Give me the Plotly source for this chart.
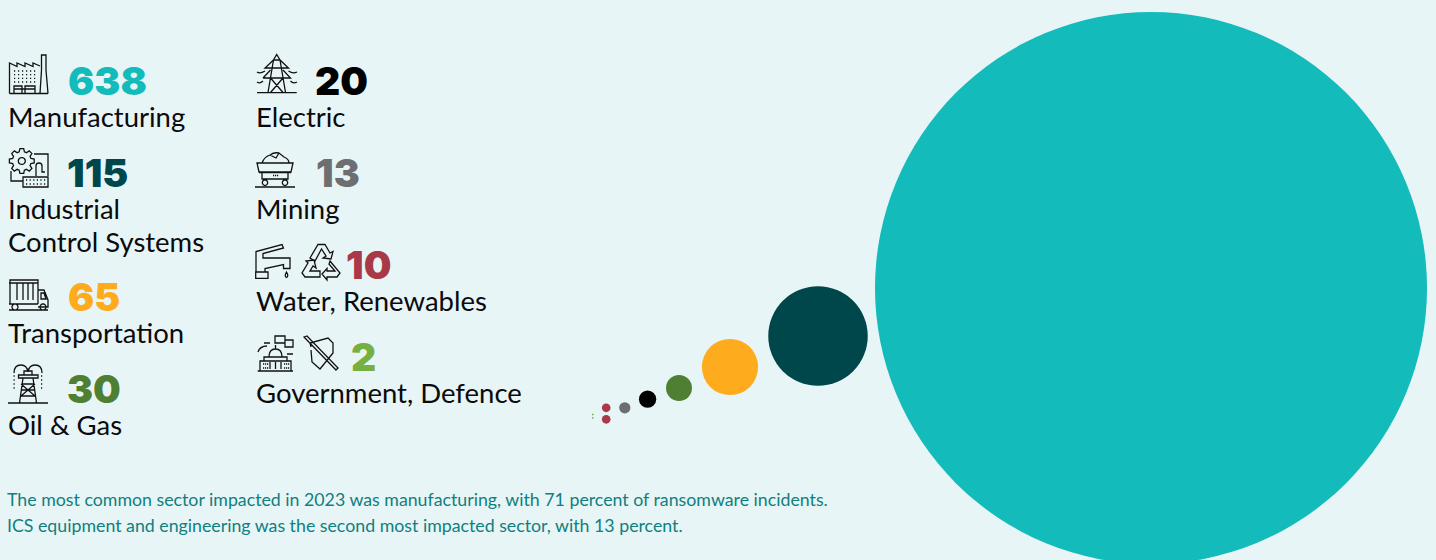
import math
import plotly.graph_objects as go

# Sector incident counts, one bubble per sector
sectors = ["Manufacturing", "Industrial Control Systems", "Transportation", "Oil & Gas",
           "Electric", "Mining", "Water", "Renewables", "Government", "Defence"]
incidents = [638, 115, 65, 30, 20, 13, 10, 10, 2, 2]
bubble_colors = ["#14BBBB", "#00474B", "#FFAB1E", "#4F7F33", "#000000",
                 "#6D6E71", "#A93849", "#A93849", "#76B041", "#76B041"]
# Hand-placed bubble chain, in page units
bubble_x = [1151, 818, 730, 679, 647.6, 624.8, 606.2, 606.2, 592.8, 592.8]
bubble_y = [288, 336, 367, 388, 399.2, 407.8, 407.8, 419.3, 414.4, 417.8]

# Key entries
key_numbers = ["638", "115", "65", "30", "20", "13", "10", "2"]
key_colors = ["#14BBBB", "#00474B", "#FFAB1E", "#4F7F33", "#000000", "#6D6E71", "#A93849", "#76B041"]
key_number_x = [69, 68, 69, 68, 316, 317, 347, 352]
key_number_y = [80.5, 172.5, 296.5, 388.5, 80.5, 172.5, 264.5, 356.5]
key_labels = ["Manufacturing", "Industrial", "Control Systems", "Transportation", "Oil & Gas",
              "Electric", "Mining", "Water, Renewables", "Government, Defence"]
key_label_x = [9, 9, 9, 9, 9, 257, 257, 257, 257]
key_label_y = [116.5, 208.5, 241.5, 332.5, 424.5, 116.5, 208.5, 300.5, 392.5]

notes = ["The most common sector impacted in 2023 was manufacturing, with 71 percent of ransomware incidents.",
         "ICS equipment and engineering was the second most impacted sector, with 13 percent."]

BG = "#E8F5F6"
LABEL_FONT = "Lato"
NUMBER_FONT = "Inter"


def dots(x0, x1, nx, y0, y1, ny):
    """Tiny grid of window/key dots as short horizontal ticks."""
    out = []
    for i in range(nx):
        x = x0 + (x1 - x0) * i / max(nx - 1, 1)
        for j in range(ny):
            y = y0 + (y1 - y0) * j / max(ny - 1, 1)
            out.append(f"M{x:.1f} {y:.1f}H{x + 1.2:.1f}")
    return "".join(out)


def circle(cx, cy, r, n=18):
    pts = [f"{cx + r * math.cos(2 * math.pi * i / n):.1f} {cy + r * math.sin(2 * math.pi * i / n):.1f}"
           for i in range(n)]
    return "M" + "L".join(pts) + "Z"


def gear(cx, cy, r_out, r_in, teeth):
    pts = []
    for i in range(teeth):
        a = 2 * math.pi * i / teeth
        w = math.pi / teeth * 0.55
        for ang, r in ((a - w * 1.3, r_in), (a - w * 0.7, r_out), (a + w * 0.7, r_out), (a + w * 1.3, r_in)):
            pts.append(f"{cx + r * math.cos(ang):.1f} {cy + r * math.sin(ang):.1f}")
    return "M" + "L".join(pts) + "Z"


# Line-art pictograms beside each number
icons = [
    # factory
    "M9.5 93.5H48M9.5 93.5V63L17 66.5V63L25 66.5V63L33 66.5V63L40 66M40 93.5L41.5 70V55H46V70L48 93.5"
    "M14 93V86H22V93M25 93V86H35V93M14 89H35" + dots(14, 34, 6, 71, 82, 4),
    # gear, panel and keyboard
    gear(21.8, 161, 12.5, 9.5, 8) + circle(21.8, 161, 3.5) +
    "M34 154H48V176M11 171V181H23M23 177H48V187H23ZM36 176V166Q36 163 39 163Q42 163 42 166V172H45"
    + dots(26, 44, 6, 180, 184, 2),
    # lorry
    "M10 304V280H38V304M9 283H38M17 283V300M23 283V300M28 283V300M33 283V300M9 304H38M38 290H44L48 300V307H38"
    "M41 293H44L46 299H41ZM9 310H48" + circle(15, 307, 3) + circle(43, 307, 3),
    # oil derrick with spray
    "M8 403H48M23 378L19.5 403M33 378L36.5 403M18.5 375H38V378H18.5ZM22 384H34M21 390H35M20.5 396H36M21 384L35 396"
    "M35 384L21 396M24 375V371H32V375M14 373Q14 365 21 365Q27 365 28 372Q29 365 35 365Q42 365 42 373"
    + dots(13.5, 13.5, 1, 376, 388, 4) + dots(41, 41, 1, 376, 388, 4),
    # pylon
    "M257 92.7H296.7M268 92.5L273.5 60L276.7 54.5L280 60L285.5 92.5M265 68H288.5L280 60H273.5ZM263 78H290.5L283 70M270.5 70L263 78"
    "M270.5 78L283 92.5M283 78L270.5 92.5M257 72Q260 74 265 71M288.5 71Q293 74 297 72M257 82Q260 84 263 81M290.5 81Q293 84 297 82",
    # mine cart
    "M257 163H293L291 172H259ZM259 172.5H291M262 163Q264 157 270 155Q274 152 279 153L284 157Q289 159 289 163M270 155L276 158L279 153"
    "M262 173V179H288V173M255 187H295" + circle(265, 182.7, 2.7) + circle(285, 182.7, 2.7) + dots(273, 277, 3, 175.5, 175.5, 1),
    # tap and droplet
    "M255.7 272V278.3H268V272ZM256 272V251.5L282 244.5L283.5 248L263 253.5V258H290V268.5H283.5V264.5L265 268.5V272"
    "M286.5 272Q284 276 286.5 277.5Q289 276 286.5 272Z",
    # recycling arrows
    "M310 258L318 244.5H325L330 253L333 251.5L331 259L323 258L326 256L321.5 249L315 261Z"
    "M308 263L302 273L305 277H320V271H310L313 266L316 268L314 260L306 261Z"
    "M330 261L340 273L337 277H327V280L322 274L327 268.5V271H335L329 264Z",
    # capitol with speech boxes
    "M257.7 371H293M260 361H291V371H260ZM264 361V357H287V361M269 357Q269 349 275.5 349Q282 349 282 357M275.5 349V345M270 362V369M275.5 362V369M281 362V369"
    "M275 336V343H285V336ZM285 340V347H293V340H285M258 352Q260 346 267 346M264 343H270M287 354H293"
    + dots(263, 267, 3, 364, 368, 2) + dots(284, 288, 3, 364, 368, 2),
    # shield with sword
    "M311 347L310 343L328 338L333 343V353L320 369L312 362L311 350M304 337L307 336L338 368L336 370Z",
]

shapes = [dict(type="path", path=p, xref="x", yref="y", layer="above",
               line=dict(color="#111111", width=1.3), fillcolor="rgba(0,0,0,0)") for p in icons]

annotations = []
for text, color, x, y in zip(key_numbers, key_colors, key_number_x, key_number_y):
    annotations.append(dict(x=x, y=y, text=text, showarrow=False, xanchor="left", yanchor="middle",
                            xshift=-3, font=dict(family=NUMBER_FONT, size=39, color=color, weight=900)))
for text, x, y in zip(key_labels, key_label_x, key_label_y):
    annotations.append(dict(x=x, y=y, text=text, showarrow=False, xanchor="left", yanchor="middle",
                            align="left", xshift=-3, font=dict(family=LABEL_FONT, size=27.5, color="#0B0B0B")))
for i, line in enumerate(notes):
    annotations.append(dict(x=8, y=498.5 + i * 26, text=line, showarrow=False, xanchor="left", yanchor="middle",
                            xshift=-3, font=dict(family=LABEL_FONT, size=17.75, color="#0F7F80")))

fig = go.Figure(go.Scatter(
    x=bubble_x, y=bubble_y, mode="markers", text=sectors, hoverinfo="text",
    marker=dict(size=incidents, sizemode="diameter", sizeref=1 / 0.8652,
                color=bubble_colors, line=dict(width=0), opacity=1),
))
fig.update_layout(
    width=1436, height=560, margin=dict(l=0, r=0, t=0, b=0), showlegend=False,
    paper_bgcolor=BG, plot_bgcolor=BG, shapes=shapes, annotations=annotations,
    xaxis=dict(range=[0, 1436], visible=False, fixedrange=True),
    yaxis=dict(range=[560, 0], visible=False, fixedrange=True),
)
fig.write_html("out.html", config=dict(displayModeBar=False))
